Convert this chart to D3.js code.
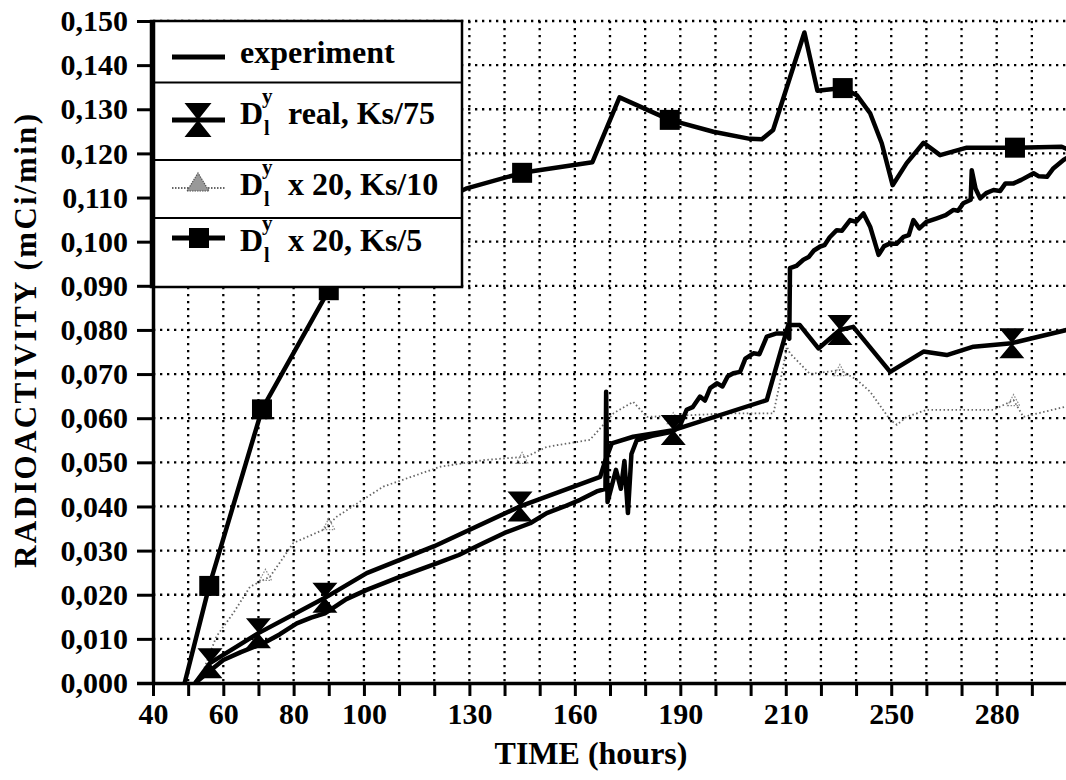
<!DOCTYPE html>
<html>
<head>
<meta charset="utf-8">
<script src="https://cdn.jsdelivr.net/npm/d3@7"></script>
<style>
  body { margin: 0; background: #fff; }
  svg { display: block; }
  svg text { font-family: "Liberation Serif", "Times New Roman", Times, "DejaVu Serif", serif !important; font-weight: bold; fill: #000; }
</style>
</head>
<body>
<svg id="chart" width="1066" height="780"></svg>
<script>
// ---- data (hours, mCi/min) ----
const xTickValues = [40, 50, 60, 70, 80, 90, 100, 110, 120, 130, 140, 150, 160, 170, 180, 190, 200, 210, 220, 230, 240, 250, 260, 270, 280, 290];
const xLabelValues = [40, 60, 80, 100, 130, 160, 190, 220, 250, 280];
const xLabelTexts = ["40", "60", "80", "100", "130", "160", "190", "210", "250", "280"];
const yTickValues = [0, 0.01, 0.02, 0.03, 0.04, 0.05, 0.06, 0.07, 0.08, 0.09, 0.10, 0.11, 0.12, 0.13, 0.14, 0.15];
const yTickTexts = ["0,000", "0,010", "0,020", "0,030", "0,040", "0,050", "0,060", "0,070", "0,080", "0,090", "0,100", "0,110", "0,120", "0,130", "0,140", "0,150"];

const experiment = [
  [52, 0], [55, 0.002], [60, 0.0052], [65, 0.007], [71.4, 0.009], [76, 0.011], [80.9, 0.0135], [85, 0.0148],
  [88.9, 0.0158], [95, 0.019], [100.8, 0.0211], [110, 0.024], [120.7, 0.0271], [127, 0.029], [134, 0.0317],
  [140, 0.034], [147.3, 0.0362], [152, 0.0385], [157, 0.040], [161.5, 0.0415], [166.2, 0.0434], [168.7, 0.044],
  [168.9, 0.066], [169.3, 0.041], [171.7, 0.0483], [173.1, 0.044], [174.1, 0.0503], [175.1, 0.0385], [176.1, 0.0519],
  [177.6, 0.055], [182, 0.056], [188, 0.057], [190, 0.0585], [191.8, 0.0619], [193.5, 0.0625], [195.6, 0.0649],
  [197, 0.064], [198.5, 0.0668], [200.4, 0.0679], [202, 0.0672], [203.5, 0.0695], [205.1, 0.0702], [207, 0.0705],
  [208.5, 0.0735], [210.8, 0.0747], [212.5, 0.0745], [214.6, 0.0785], [217.4, 0.0792], [220.3, 0.0792], [221, 0.078],
  [221.2, 0.094], [223, 0.0945], [225, 0.0959], [226.5, 0.0965], [228, 0.098], [229.8, 0.0989], [231, 0.0992],
  [232.5, 0.101], [234.5, 0.1026], [236, 0.1025], [238.3, 0.1049], [240, 0.1045], [242.1, 0.1064], [244, 0.1034],
  [246.4, 0.097], [248, 0.099], [249.7, 0.0996], [251.5, 0.0995], [253.5, 0.1011], [255, 0.1015], [256.3, 0.1049],
  [258, 0.103], [260, 0.1045], [263, 0.1053], [265.5, 0.106], [267.7, 0.1072], [269, 0.107], [270.5, 0.1087],
  [272.6, 0.1095], [272.9, 0.1162], [274, 0.112], [275.3, 0.1098], [277, 0.111], [279.1, 0.1117], [281, 0.1115],
  [282.5, 0.1132], [284.8, 0.1132], [287, 0.114], [290.5, 0.1155], [292, 0.1148], [294.3, 0.1147], [296, 0.1165],
  [299, 0.1185], [300, 0.119]
];

const realKs75 = [
  [52, 0], [56.2, 0.0045], [70, 0.0113], [88.9, 0.0193], [100.8, 0.0249], [120, 0.031], [144.4, 0.040],
  [167.2, 0.0467], [168.5, 0.050], [170.5, 0.0543], [176.6, 0.0558], [188, 0.0573], [214.6, 0.0641],
  [216.5, 0.0694], [220.7, 0.0811], [224, 0.0811], [229.3, 0.0758], [235.4, 0.080], [239.2, 0.0807],
  [249.7, 0.0705], [259.2, 0.0751], [265.8, 0.0743], [273.4, 0.0762], [284.3, 0.077], [300, 0.080]
];
const realKs75Markers = [[56.2, 0.0045], [70, 0.0113], [88.9, 0.0193], [144.4, 0.040], [188, 0.0573], [235.4, 0.080], [284.3, 0.077]];

const x20Ks10 = [
  [53, 0], [58, 0.0105], [62.8, 0.0158], [67.6, 0.0218], [73.3, 0.0241], [79.9, 0.0317], [88.4, 0.0347],
  [92.3, 0.0377], [105.5, 0.0445], [121.7, 0.049], [134, 0.0505], [146.3, 0.0513], [152, 0.0535], [164.3, 0.0551],
  [171, 0.0611], [176.6, 0.0637], [180.5, 0.0603], [205.1, 0.0611], [216.5, 0.0611], [219.3, 0.0717],
  [220.3, 0.0762], [221.2, 0.0747], [226.9, 0.070], [235.4, 0.0709], [240.2, 0.0687], [244, 0.066],
  [249.7, 0.0596], [251.6, 0.0585], [254.4, 0.0603], [260.1, 0.0619], [279.1, 0.0619], [284.8, 0.0641],
  [287.6, 0.0603], [299.5, 0.0626]
];
const x20Ks10Markers = [[72, 0.0245], [90, 0.036], [145, 0.051], [188, 0.060], [235.4, 0.0709], [284.8, 0.0641]];

const x20Ks5 = [
  [49, 0], [56, 0.022], [71, 0.062], [90, 0.089], [105, 0.101], [118, 0.108], [129, 0.112], [145, 0.1156],
  [165, 0.118], [172.7, 0.1327], [187, 0.1276], [199.4, 0.1249], [209.8, 0.1233], [213.2, 0.1232],
  [216.4, 0.1253], [225.3, 0.1474], [229, 0.1342], [236.2, 0.1348], [240.2, 0.1332], [244, 0.1291],
  [247.3, 0.1223], [250.4, 0.1128], [254.4, 0.1178], [259.2, 0.1224], [263.9, 0.1196], [271.5, 0.1213],
  [285.2, 0.1213], [298.5, 0.1215], [300, 0.121]
];
const x20Ks5Markers = [[56, 0.022], [71, 0.062], [90, 0.089], [145, 0.1156], [187, 0.1276], [236.2, 0.1348], [285.2, 0.1213]];

// ---- drawing ----
const FONT = "'Liberation Serif', 'Times New Roman', Times, 'DejaVu Serif', serif";
const svg = d3.select("#chart").attr("font-family", FONT).attr("font-weight", "bold");
const x = d3.scaleLinear().domain([40, 300]).range([153, 1067]);
const y = d3.scaleLinear().domain([0, 0.15]).range([683, 21]);

svg.append("defs").append("clipPath").attr("id", "plot")
  .append("rect").attr("x", 153).attr("y", 5).attr("width", 920).attr("height", 680);

// dotted grid
const grid = svg.append("g").attr("stroke", "#000").attr("stroke-width", 2.3).attr("stroke-dasharray", "2.3,4.7");
grid.selectAll("line.v").data(xTickValues.slice(1)).join("line")
  .attr("x1", d => x(d)).attr("x2", d => x(d))
  .attr("y1", y(0.15)).attr("y2", y(0));
grid.selectAll("line.h").data(yTickValues.slice(1)).join("line")
  .attr("x1", x(40)).attr("x2", 1066)
  .attr("y1", d => y(d)).attr("y2", d => y(d));

const line = d3.line().x(d => x(d[0])).y(d => y(d[1]));
const plot = svg.append("g").attr("clip-path", "url(#plot)");

const hourglass = (w, h) => `M${-w / 2},${-h / 2}L${w / 2},${-h / 2}L0,0L${w / 2},${h / 2}L${-w / 2},${h / 2}L0,0Z`;
const triangle = (w, h) => `M${-w / 2},${h / 2}L${w / 2},${h / 2}L0,${-h / 2}Z`;

// Ks/10 : grey dotted
plot.append("path").datum(x20Ks10).attr("d", line)
  .attr("fill", "none").attr("stroke", "#666").attr("stroke-width", 1.8).attr("stroke-dasharray", "1.5,2.5");
plot.selectAll("path.tri").data(x20Ks10Markers).join("path")
  .attr("transform", d => `translate(${x(d[0])},${y(d[1])})`)
  .attr("d", triangle(12, 11))
  .attr("fill", "none").attr("stroke", "#888").attr("stroke-width", 1.2).attr("stroke-dasharray", "1.5,1.5");

// experiment
plot.append("path").datum(experiment).attr("d", line)
  .attr("fill", "none").attr("stroke", "#000").attr("stroke-width", 4.5).attr("stroke-linejoin", "round");

// real, Ks/75
plot.append("path").datum(realKs75).attr("d", line)
  .attr("fill", "none").attr("stroke", "#000").attr("stroke-width", 4.5).attr("stroke-linejoin", "round");
plot.selectAll("path.hg").data(realKs75Markers).join("path")
  .attr("transform", d => `translate(${x(d[0])},${y(d[1])})`)
  .attr("d", hourglass(25, 30)).attr("fill", "#000");

// x 20, Ks/5
plot.append("path").datum(x20Ks5).attr("d", line)
  .attr("fill", "none").attr("stroke", "#000").attr("stroke-width", 4.5).attr("stroke-linejoin", "round");
plot.selectAll("rect.sq").data(x20Ks5Markers).join("rect")
  .attr("x", d => x(d[0]) - 10).attr("y", d => y(d[1]) - 10)
  .attr("width", 20).attr("height", 20).attr("fill", "#000");

// legend
const legend = svg.append("g");
legend.append("rect").attr("x", 151).attr("y", 21).attr("width", 311).attr("height", 266)
  .attr("fill", "#fff").attr("stroke", "#000").attr("stroke-width", 2.5);
[82.6, 160, 218].forEach(ly => legend.append("line")
  .attr("x1", 151).attr("x2", 462).attr("y1", ly).attr("y2", ly)
  .attr("stroke", "#000").attr("stroke-width", 2));

legend.append("line").attr("x1", 172).attr("x2", 225).attr("y1", 57).attr("y2", 57)
  .attr("stroke", "#000").attr("stroke-width", 5);
legend.append("text").attr("x", 240).attr("y", 63).attr("font-size", 32).text("experiment");

legend.append("line").attr("x1", 172).attr("x2", 225).attr("y1", 120).attr("y2", 120)
  .attr("stroke", "#000").attr("stroke-width", 5);
legend.append("path").attr("transform", "translate(198,120)").attr("d", hourglass(27, 34)).attr("fill", "#000");

legend.append("line").attr("x1", 172).attr("x2", 225).attr("y1", 188).attr("y2", 188)
  .attr("stroke", "#666").attr("stroke-width", 2).attr("stroke-dasharray", "1.5,1.5");
legend.append("path").attr("transform", "translate(198,182)").attr("d", triangle(22, 18))
  .attr("fill", "#999").attr("stroke", "#555").attr("stroke-width", 1.2).attr("stroke-dasharray", "1.5,1");

legend.append("line").attr("x1", 172).attr("x2", 225).attr("y1", 238).attr("y2", 238)
  .attr("stroke", "#000").attr("stroke-width", 5);
legend.append("rect").attr("x", 189).attr("y", 228).attr("width", 20).attr("height", 20).attr("fill", "#000");

const legendRows = [
  { base: 124, rest: "real, Ks/75" },
  { base: 194.5, rest: "x 20, Ks/10" },
  { base: 251, rest: "x 20, Ks/5" }
];
legendRows.forEach(r => {
  legend.append("text").attr("x", 240).attr("y", r.base).attr("font-size", 32).text("D");
  legend.append("text").attr("x", 262).attr("y", r.base - 21).attr("font-size", 21).text("y");
  legend.append("text").attr("x", 264).attr("y", r.base + 11).attr("font-size", 20).text("l");
  legend.append("text").attr("x", 288).attr("y", r.base).attr("font-size", 32).text(r.rest);
});

// axes
const yAxis = svg.append("g").attr("transform", `translate(${x(40)},0)`)
  .call(d3.axisLeft(y).tickValues(yTickValues)
    .tickFormat((d, i) => yTickTexts[i]).tickSize(16).tickSizeOuter(0).tickPadding(9));
const xAxis = svg.append("g").attr("transform", `translate(0,${y(0)})`)
  .call(d3.axisBottom(x).tickValues(xTickValues)
    .tickFormat(d => { const i = xLabelValues.indexOf(d); return i < 0 ? "" : xLabelTexts[i]; })
    .tickSize(13).tickSizeOuter(0).tickPadding(7));
[yAxis, xAxis].forEach(a => {
  a.attr("font-size", 30).attr("font-family", FONT).attr("font-weight", "bold");
  a.select(".domain").attr("stroke-width", 3.5);
  a.selectAll(".tick line").attr("stroke-width", 3);
  a.selectAll(".tick text").attr("fill", "#000");
});
xAxis.select(".domain").attr("d", `M137,0.5H1066`);

// titles
svg.append("text").attr("x", 591).attr("y", 764).attr("text-anchor", "middle")
  .attr("font-size", 32).text("TIME (hours)");
svg.append("text").attr("transform", "translate(36,341) rotate(-90)").attr("text-anchor", "middle")
  .attr("font-size", 31).attr("textLength", 454).attr("lengthAdjust", "spacing")
  .text("RADIOACTIVITY (mCi/min)");
</script>
</body>
</html>
